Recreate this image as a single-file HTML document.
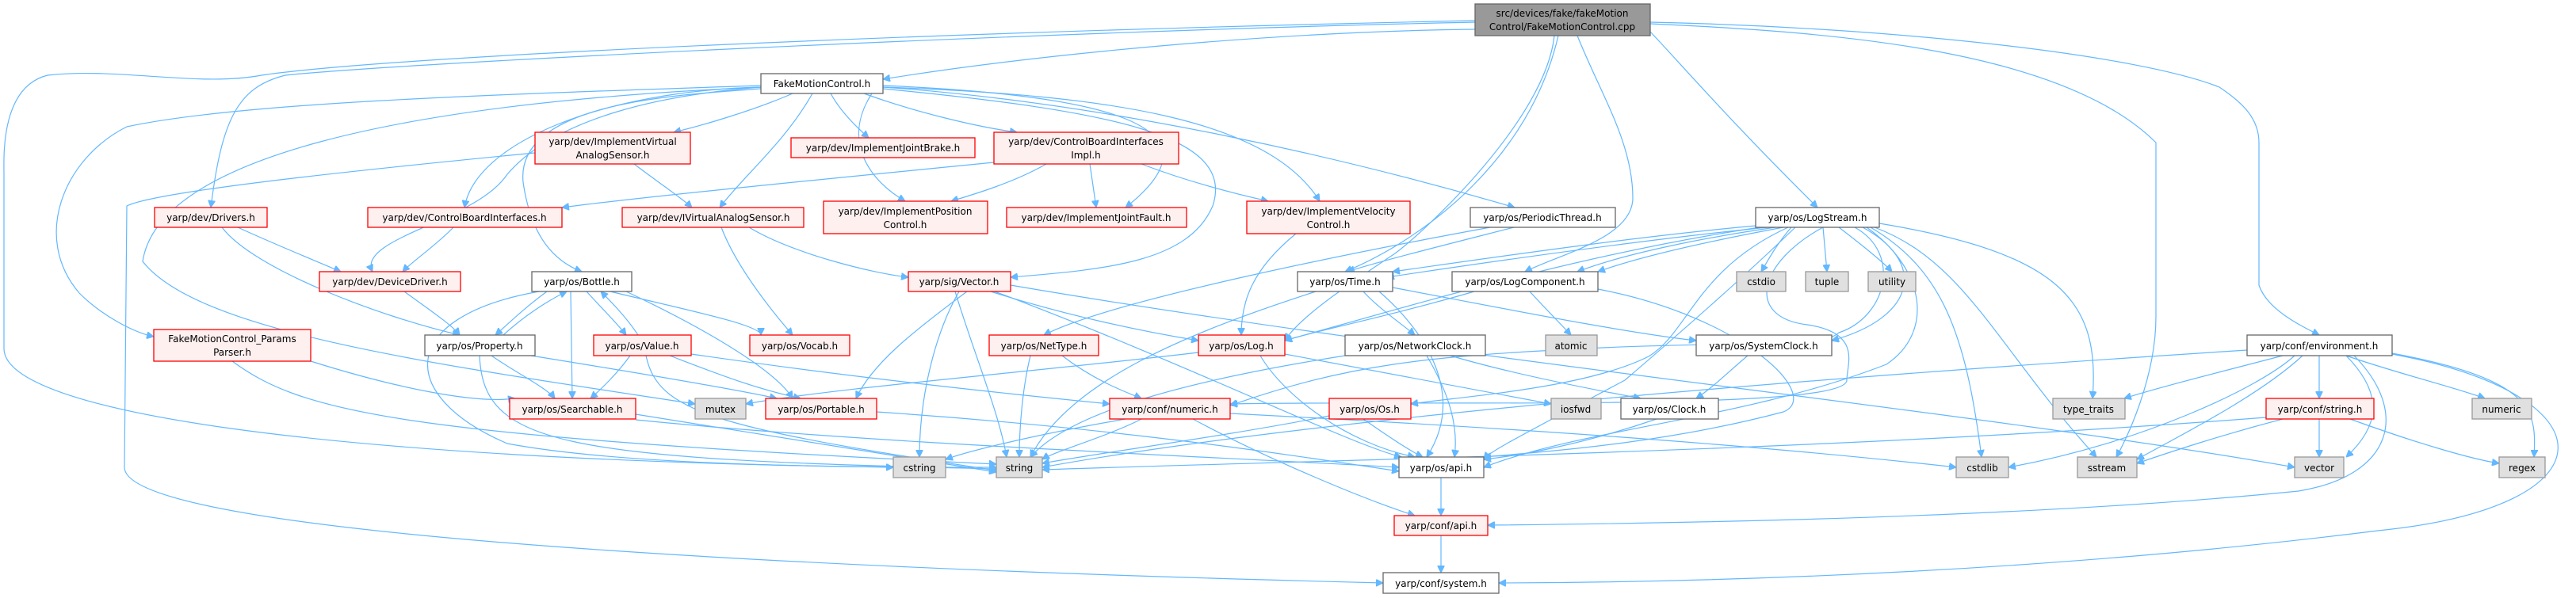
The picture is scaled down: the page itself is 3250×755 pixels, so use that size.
<!DOCTYPE html>
<html><head><meta charset="utf-8"><style>
html,body{margin:0;padding:0;background:#fff;}
svg{display:block;}
text{font-family:"DejaVu Sans","Liberation Sans",sans-serif;font-size:12px;fill:#000;}
.w{fill:#fff;stroke:#666;stroke-width:1.3}
.r{fill:#fff0f0;stroke:#f00;stroke-width:1.3}
.g{fill:#e0e0e0;stroke:#999;stroke-width:1.3}
.c{fill:#999;stroke:#666;stroke-width:1.3}
path{fill:none;stroke:#63b8ff;stroke-width:1.2;marker-end:url(#a)}
</style></head><body>
<svg width="3250" height="755" viewBox="0 0 3250 755" xmlns="http://www.w3.org/2000/svg">
<defs><marker id="a" viewBox="0 0 10 10" refX="10" refY="5" markerWidth="9" markerHeight="9" markerUnits="userSpaceOnUse" orient="auto"><path d="M0,0 L10,5 L0,10 z" style="fill:#63b8ff;stroke:#63b8ff;marker-end:none"/></marker></defs>

<g>
<path d="M1861,37 C1600,40 1300,70 1114,100"/>
<path d="M1861,28 C1300,40 500,80 360,95 C300,110 280,150 266,262"/>
<path d="M1861,26 C1200,40 500,70 330,95 C250,110 150,85 60,95 C0,110 5,200 5,220 L5,440 C5,520 400,580 1127,590"/>
<path d="M1966,45 C1930,200 1800,300 1697,343"/>
<path d="M1990,45 C2020,120 2060,180 2060,250 C2060,300 1970,320 1924,343"/>
<path d="M2082,40 C2120,80 2180,150 2293,262"/>
<path d="M2082,28 C2400,35 2700,70 2800,110 C2830,130 2850,150 2850,180 L2850,360 C2860,390 2900,410 2926,423"/>
<path d="M2082,30 C2300,40 2600,60 2720,180 L2720,400 C2720,480 2680,560 2670,577"/>
<path d="M1961,45 C1950,150 1800,290 1760,320 C1700,360 1640,400 1621,430"/>
<path d="M1000,118 C950,140 880,160 850,167"/>
<path d="M1025,118 C990,180 940,220 908,262"/>
<path d="M1048,118 C1060,140 1080,160 1096,174"/>
<path d="M1090,118 C1150,140 1230,160 1283,167"/>
<path d="M1100,118 C1060,180 1100,230 1142,254"/>
<path d="M1114,108 C1400,120 1550,160 1420,262"/>
<path d="M1114,110 C1400,120 1600,150 1665,254"/>
<path d="M1114,110 C1400,130 1700,200 1911,262"/>
<path d="M1114,112 C1400,140 1560,170 1530,260 C1500,330 1400,340 1275,350"/>
<path d="M960,112 C850,120 650,130 660,230 C670,300 700,330 734,343"/>
<path d="M960,110 C830,120 700,150 640,220 C600,280 450,300 470,343"/>
<path d="M960,110 C760,115 600,180 586,262"/>
<path d="M960,108 C600,120 300,130 160,160 C80,200 40,300 100,370 C130,400 170,420 194,425"/>
<path d="M960,110 C500,130 200,200 180,330 C250,420 550,460 877,510"/>
<path d="M800,207 C830,230 860,250 873,262"/>
<path d="M675,193 C500,210 200,240 160,260 L157,590 C157,680 1100,720 1745,736"/>
<path d="M1254,205 C1000,230 800,250 709,262"/>
<path d="M1320,207 C1280,230 1230,245 1200,254"/>
<path d="M1375,207 L1383,262"/>
<path d="M1440,207 C1500,230 1560,245 1600,254"/>
<path d="M300,287 C350,310 400,330 430,343"/>
<path d="M280,287 C320,340 480,400 580,423"/>
<path d="M572,287 C550,310 520,330 508,343"/>
<path d="M910,287 C930,340 980,400 1000,423"/>
<path d="M945,287 C1000,320 1100,345 1146,350"/>
<path d="M1635,295 C1580,340 1566,380 1566,423"/>
<path d="M1880,287 C1700,320 1400,380 1317,423"/>
<path d="M1910,287 C1820,310 1740,330 1700,343"/>
<path d="M510,368 C540,390 570,410 580,423"/>
<path d="M690,368 C660,390 640,410 625,423"/>
<path d="M635,423 C660,400 690,380 715,368"/>
<path d="M720,368 L722,503"/>
<path d="M740,368 C760,390 780,410 790,423"/>
<path d="M770,368 C860,390 960,410 960,423"/>
<path d="M790,368 C900,420 980,470 1000,503"/>
<path d="M680,368 C500,400 500,500 640,560 C800,590 1100,590 1257,590"/>
<path d="M805,423 C790,400 770,380 758,368"/>
<path d="M620,449 C650,470 690,490 700,503"/>
<path d="M670,449 C800,470 920,490 980,503"/>
<path d="M605,449 C610,560 700,580 1257,592"/>
<path d="M795,449 C780,470 760,490 745,503"/>
<path d="M845,449 C900,470 950,490 1010,503"/>
<path d="M872,447 C1100,480 1300,500 1400,510"/>
<path d="M815,449 C830,520 900,540 1257,594"/>
<path d="M1210,368 C1180,420 1160,500 1160,577"/>
<path d="M1205,368 C1230,450 1260,520 1270,577"/>
<path d="M1250,368 C1350,400 1450,420 1512,430"/>
<path d="M1220,368 C1150,420 1100,460 1080,503"/>
<path d="M1255,368 C1500,460 1700,560 1768,577"/>
<path d="M1275,360 C1800,450 2500,520 2895,590"/>
<path d="M1720,368 C1740,390 1770,410 1785,423"/>
<path d="M1757,363 C1900,390 2050,420 2140,430"/>
<path d="M1740,368 C1800,420 1850,500 1800,577"/>
<path d="M1660,368 C1500,420 1350,480 1300,577"/>
<path d="M1860,368 C1750,400 1650,420 1621,430"/>
<path d="M1930,368 C1950,390 1970,410 1982,423"/>
<path d="M2016,365 C2200,400 2300,500 2250,520 C2100,560 1950,570 1872,577"/>
<path d="M2215,285 C2050,300 1850,330 1757,343"/>
<path d="M2230,287 C2100,300 1950,320 1750,350"/>
<path d="M2240,287 C2150,300 2050,320 1990,343"/>
<path d="M2250,287 C2180,300 2080,320 2016,343"/>
<path d="M2260,287 C2240,310 2230,330 2222,343"/>
<path d="M2300,287 L2305,343"/>
<path d="M2320,287 C2350,310 2375,330 2387,343"/>
<path d="M2220,287 C2000,320 1800,380 1621,430"/>
<path d="M2256,287 C2140,340 2130,420 2080,450 C2000,490 1850,500 1780,510"/>
<path d="M2265,287 C2200,350 2120,420 2050,480 C1900,560 1880,570 1872,580"/>
<path d="M2300,287 C2220,330 2200,400 2280,410 C2350,420 2330,460 2330,480 C2330,520 1800,505 1552,510"/>
<path d="M2340,287 C2400,320 2380,400 2320,420 C2300,440 2200,430 2000,440 C1800,450 1700,460 1552,512"/>
<path d="M2350,287 C2430,330 2420,400 2311,430"/>
<path d="M2360,287 C2450,340 2480,420 2500,577"/>
<path d="M2365,287 C2480,330 2520,440 2645,577"/>
<path d="M2371,282 C2600,320 2650,380 2640,503"/>
<path d="M2355,287 C2430,340 2440,420 2380,460 C2200,530 2000,540 1872,590"/>
<path d="M293,456 C380,520 500,550 1257,586"/>
<path d="M392,456 C500,490 600,510 650,503"/>
<path d="M802,530 C1100,560 1500,575 1765,590"/>
<path d="M802,523 C900,540 1100,570 1257,596"/>
<path d="M1106,520 C1400,540 1600,570 1765,595"/>
<path d="M1300,449 C1290,490 1286,540 1286,577"/>
<path d="M1340,449 C1380,480 1420,495 1440,503"/>
<path d="M1590,449 C1620,500 1700,560 1785,577"/>
<path d="M1621,447 C1800,480 1900,500 1957,510"/>
<path d="M1512,445 C1300,470 1050,490 941,510"/>
<path d="M1800,449 C1830,500 1840,540 1835,577"/>
<path d="M1830,449 C1900,470 2000,490 2070,503"/>
<path d="M1697,449 C1500,480 1350,520 1300,577"/>
<path d="M2205,449 C2180,470 2160,490 2140,503"/>
<path d="M2090,529 C2000,560 1920,575 1872,580"/>
<path d="M1420,529 C1300,550 1220,570 1193,580"/>
<path d="M1440,529 C1400,550 1330,570 1315,580"/>
<path d="M1505,529 C1600,580 1720,630 1785,651"/>
<path d="M1552,522 C1900,540 2200,560 2468,590"/>
<path d="M1720,529 C1750,550 1780,570 1795,577"/>
<path d="M1677,525 C1550,550 1400,570 1315,585"/>
<path d="M1818,603 L1818,651"/>
<path d="M1818,676 L1818,723"/>
<path d="M2880,449 C2800,470 2720,490 2680,503"/>
<path d="M2926,449 L2926,503"/>
<path d="M2960,449 C3020,470 3100,490 3135,503"/>
<path d="M3018,446 C3200,480 3200,520 3197,577"/>
<path d="M2960,449 C3010,500 3000,540 2960,577"/>
<path d="M2905,449 C2850,500 2750,550 2696,580"/>
<path d="M2895,449 C2850,490 2700,560 2534,590"/>
<path d="M2835,442 C2400,470 1700,520 1315,590"/>
<path d="M3018,447 C3300,500 3300,640 3000,670 C2600,720 2200,735 1891,736"/>
<path d="M2970,449 C3040,520 3020,600 2900,620 C2600,650 2200,660 1877,663"/>
<path d="M2926,529 L2926,577"/>
<path d="M2965,529 C3050,560 3120,580 3153,585"/>
<path d="M2880,529 C2800,550 2740,570 2696,585"/>
<path d="M2859,527 C2300,570 1700,580 1315,593"/>
</g>

<g>
<rect class="c" x="1861" y="5" width="221" height="40"/><text x="1971" y="21" text-anchor="middle">src/devices/fake/fakeMotion</text><text x="1971" y="38" text-anchor="middle">Control/FakeMotionControl.cpp</text>
<rect class="w" x="960" y="93" width="154" height="25"/><text x="1037" y="110" text-anchor="middle">FakeMotionControl.h</text>
<rect class="r" x="675" y="167" width="196" height="40"/><text x="773" y="183" text-anchor="middle">yarp/dev/ImplementVirtual</text><text x="773" y="200" text-anchor="middle">AnalogSensor.h</text>
<rect class="r" x="998" y="174" width="232" height="25"/><text x="1114" y="191" text-anchor="middle">yarp/dev/ImplementJointBrake.h</text>
<rect class="r" x="1254" y="167" width="233" height="40"/><text x="1370" y="183" text-anchor="middle">yarp/dev/ControlBoardInterfaces</text><text x="1370" y="200" text-anchor="middle">Impl.h</text>
<rect class="r" x="195" y="262" width="142" height="25"/><text x="266" y="279" text-anchor="middle">yarp/dev/Drivers.h</text>
<rect class="r" x="464" y="262" width="245" height="25"/><text x="586" y="279" text-anchor="middle">yarp/dev/ControlBoardInterfaces.h</text>
<rect class="r" x="785" y="262" width="229" height="25"/><text x="900" y="279" text-anchor="middle">yarp/dev/IVirtualAnalogSensor.h</text>
<rect class="r" x="1039" y="254" width="207" height="41"/><text x="1142" y="271" text-anchor="middle">yarp/dev/ImplementPosition</text><text x="1142" y="288" text-anchor="middle">Control.h</text>
<rect class="r" x="1270" y="262" width="227" height="25"/><text x="1383" y="279" text-anchor="middle">yarp/dev/ImplementJointFault.h</text>
<rect class="r" x="1573" y="254" width="206" height="41"/><text x="1676" y="271" text-anchor="middle">yarp/dev/ImplementVelocity</text><text x="1676" y="288" text-anchor="middle">Control.h</text>
<rect class="w" x="1855" y="262" width="183" height="25"/><text x="1946" y="279" text-anchor="middle">yarp/os/PeriodicThread.h</text>
<rect class="w" x="2215" y="262" width="156" height="25"/><text x="2293" y="279" text-anchor="middle">yarp/os/LogStream.h</text>
<rect class="r" x="403" y="343" width="178" height="25"/><text x="492" y="360" text-anchor="middle">yarp/dev/DeviceDriver.h</text>
<rect class="w" x="671" y="343" width="126" height="25"/><text x="734" y="360" text-anchor="middle">yarp/os/Bottle.h</text>
<rect class="r" x="1146" y="343" width="129" height="25"/><text x="1210" y="360" text-anchor="middle">yarp/sig/Vector.h</text>
<rect class="w" x="1637" y="343" width="120" height="25"/><text x="1697" y="360" text-anchor="middle">yarp/os/Time.h</text>
<rect class="w" x="1832" y="343" width="184" height="25"/><text x="1924" y="360" text-anchor="middle">yarp/os/LogComponent.h</text>
<rect class="g" x="2191" y="343" width="62" height="25"/><text x="2222" y="360" text-anchor="middle">cstdio</text>
<rect class="g" x="2278" y="343" width="54" height="25"/><text x="2305" y="360" text-anchor="middle">tuple</text>
<rect class="g" x="2357" y="343" width="60" height="25"/><text x="2387" y="360" text-anchor="middle">utility</text>
<rect class="r" x="194" y="416" width="198" height="40"/><text x="293" y="432" text-anchor="middle">FakeMotionControl_Params</text><text x="293" y="449" text-anchor="middle">Parser.h</text>
<rect class="w" x="536" y="423" width="139" height="26"/><text x="605" y="441" text-anchor="middle">yarp/os/Property.h</text>
<rect class="r" x="749" y="423" width="123" height="26"/><text x="810" y="441" text-anchor="middle">yarp/os/Value.h</text>
<rect class="r" x="946" y="423" width="126" height="26"/><text x="1009" y="441" text-anchor="middle">yarp/os/Vocab.h</text>
<rect class="r" x="1248" y="423" width="138" height="26"/><text x="1317" y="441" text-anchor="middle">yarp/os/NetType.h</text>
<rect class="r" x="1512" y="423" width="109" height="26"/><text x="1566" y="441" text-anchor="middle">yarp/os/Log.h</text>
<rect class="w" x="1697" y="423" width="177" height="26"/><text x="1785" y="441" text-anchor="middle">yarp/os/NetworkClock.h</text>
<rect class="g" x="1950" y="423" width="65" height="26"/><text x="1982" y="441" text-anchor="middle">atomic</text>
<rect class="w" x="2140" y="423" width="171" height="26"/><text x="2225" y="441" text-anchor="middle">yarp/os/SystemClock.h</text>
<rect class="w" x="2835" y="423" width="183" height="26"/><text x="2926" y="441" text-anchor="middle">yarp/conf/environment.h</text>
<rect class="r" x="643" y="503" width="159" height="26"/><text x="722" y="521" text-anchor="middle">yarp/os/Searchable.h</text>
<rect class="g" x="877" y="503" width="64" height="26"/><text x="909" y="521" text-anchor="middle">mutex</text>
<rect class="r" x="966" y="503" width="140" height="26"/><text x="1036" y="521" text-anchor="middle">yarp/os/Portable.h</text>
<rect class="r" x="1400" y="503" width="152" height="26"/><text x="1476" y="521" text-anchor="middle">yarp/conf/numeric.h</text>
<rect class="r" x="1677" y="503" width="103" height="26"/><text x="1728" y="521" text-anchor="middle">yarp/os/Os.h</text>
<rect class="g" x="1957" y="503" width="63" height="26"/><text x="1988" y="521" text-anchor="middle">iosfwd</text>
<rect class="w" x="2045" y="503" width="123" height="26"/><text x="2106" y="521" text-anchor="middle">yarp/os/Clock.h</text>
<rect class="g" x="2590" y="503" width="91" height="26"/><text x="2635" y="521" text-anchor="middle">type_traits</text>
<rect class="r" x="2859" y="503" width="136" height="26"/><text x="2927" y="521" text-anchor="middle">yarp/conf/string.h</text>
<rect class="g" x="3119" y="503" width="75" height="26"/><text x="3156" y="521" text-anchor="middle">numeric</text>
<rect class="g" x="1127" y="577" width="66" height="26"/><text x="1160" y="595" text-anchor="middle">cstring</text>
<rect class="g" x="1257" y="577" width="58" height="26"/><text x="1286" y="595" text-anchor="middle">string</text>
<rect class="w" x="1765" y="577" width="107" height="26"/><text x="1818" y="595" text-anchor="middle">yarp/os/api.h</text>
<rect class="g" x="2468" y="577" width="66" height="26"/><text x="2501" y="595" text-anchor="middle">cstdlib</text>
<rect class="g" x="2621" y="577" width="75" height="26"/><text x="2658" y="595" text-anchor="middle">sstream</text>
<rect class="g" x="2895" y="577" width="62" height="26"/><text x="2926" y="595" text-anchor="middle">vector</text>
<rect class="g" x="3153" y="577" width="58" height="26"/><text x="3182" y="595" text-anchor="middle">regex</text>
<rect class="r" x="1759" y="651" width="118" height="25"/><text x="1818" y="668" text-anchor="middle">yarp/conf/api.h</text>
<rect class="w" x="1745" y="723" width="146" height="26"/><text x="1818" y="741" text-anchor="middle">yarp/conf/system.h</text>
</g>
</svg>
</body></html>
